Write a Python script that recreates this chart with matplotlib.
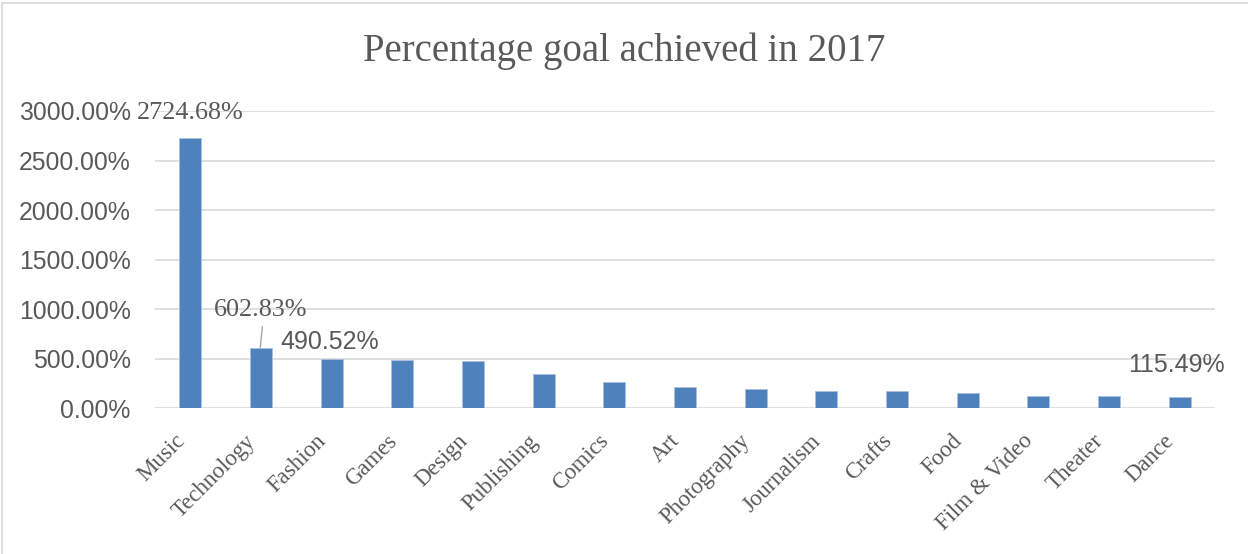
import matplotlib
matplotlib.use("Agg")
import matplotlib.pyplot as plt
from matplotlib.patches import Rectangle
from matplotlib.transforms import ScaledTranslation

categories = ["Music", "Technology", "Fashion", "Games", "Design", "Publishing",
              "Comics", "Art", "Photography", "Journalism", "Crafts", "Food",
              "Film & Video", "Theater", "Dance"]
pct_goal = [2724.68, 602.83, 490.52, 482, 479, 343, 260, 212, 195, 172, 172,
            148, 125, 118, 115.49]
y_ticks = [0, 500, 1000, 1500, 2000, 2500, 3000]

TEXT = "#595959"
BAR = "#4f81bd"
GRID = "#d9d9d9"
SERIF = "Liberation Serif"
SANS = "Liberation Sans"

fig = plt.figure(figsize=(12.48, 5.54), dpi=100)
fig.patch.set_facecolor("white")

# outer chart frame
fig.add_artist(Rectangle((2 / 1248, -0.1), 1.2, 1 - 3 / 554 + 0.1,
                         transform=fig.transFigure, fill=False,
                         edgecolor=GRID, lw=1.2))

ax = fig.add_axes([155 / 1248, 1 - 408 / 554, 1060 / 1248, 297 / 554])
x = range(len(categories))
ax.bar(x, pct_goal, width=0.31, color=BAR, edgecolor="#a9c0de", lw=0.6, zorder=3)

ax.set_xlim(-0.5, len(categories) - 0.5)
ax.set_ylim(0, 3000)
ax.set_yticks(y_ticks)
ax.set_yticklabels([f"{v:.2f}%" for v in y_ticks], fontfamily=SANS,
                   fontsize=17.8, color=TEXT)
ax.yaxis.grid(True, color=GRID, lw=1.2, zorder=0)
ax.tick_params(axis="y", length=0, pad=17.5)
ax.tick_params(axis="x", length=0, pad=4)
ax.set_xticks(list(x))
ax.set_xticklabels(categories, rotation=45, ha="right", va="top",
                   rotation_mode="anchor", fontfamily=SERIF, fontsize=16.5,
                   color=TEXT)
shift = ScaledTranslation(-0.16, -0.17, fig.dpi_scale_trans)
for lbl in ax.get_xticklabels():
    lbl.set_transform(lbl.get_transform() + shift)
for s in ax.spines.values():
    s.set_visible(False)
ax.set_axisbelow(True)

fig.text(0.5, 1 - 51 / 554, "Percentage goal achieved in 2017", ha="center",
         va="center", fontfamily=SERIF, fontsize=28, color=TEXT)

# data labels
ax.text(0, 2980, f"{pct_goal[0]:.2f}%", ha="center", va="center",
        fontfamily=SERIF, fontsize=18.8, color=TEXT)
ax.text(1, 990, f"{pct_goal[1]:.2f}%", ha="center", va="center",
        fontfamily=SERIF, fontsize=18.8, color=TEXT)
ax.plot([1.02, 0.99], [820, 615], color="#a6a6a6", lw=1.0, zorder=4)
ax.text(1.976, 667, f"{pct_goal[2]:.2f}%", ha="center", va="center",
        fontfamily=SANS, fontsize=18, color=TEXT)
ax.text(13.96, 434, f"{pct_goal[14]:.2f}%", ha="center", va="center",
        fontfamily=SANS, fontsize=18, color=TEXT, clip_on=False)

fig.savefig("out.png", dpi=100, facecolor="white")
